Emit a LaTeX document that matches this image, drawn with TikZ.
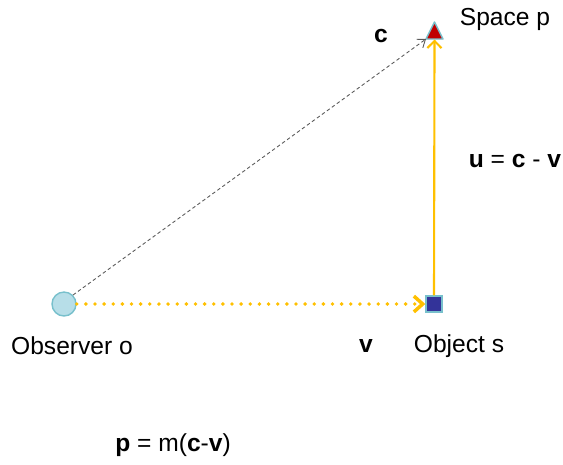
\documentclass[tikz,border=0pt]{standalone}
\usepackage{fontspec}
\setmainfont{Liberation Sans}
\usetikzlibrary{arrows.meta,shapes.geometric}
\definecolor{myyellow}{HTML}{FFC000}
\definecolor{mycyan}{HTML}{78C0CC}
\definecolor{lightcyan}{HTML}{B7DEE8}
\definecolor{darkblue}{HTML}{333399}
\definecolor{darkred}{HTML}{C00000}
\begin{document}
\begin{tikzpicture}[x=0.02cm,y=-0.02cm,
  lbl/.style={font=\fontsize{14pt}{16pt}\selectfont, inner sep=0pt},
  yarrow/.style={draw=myyellow, line width=1.2pt},
]
\useasboundingbox (0,0) rectangle (563,464);
\node[circle, draw=mycyan, fill=lightcyan, line width=0.8pt, inner sep=0pt, minimum size=0.48cm] (o) at (64,304) {};
\node[rectangle, draw=mycyan, fill=darkblue, line width=0.8pt, inner sep=0pt, minimum size=0.32cm] (s) at (434,304) {};
% triangle (Space p)
\coordinate (pt) at (434.5,22);
\coordinate (pl) at (426,39);
\coordinate (pr) at (443,39);
\coordinate (pb) at (434.5,39.5);
\draw[mycyan, fill=darkred, line width=0.8pt, line join=round] (pt) -- (pr) -- (pl) -- cycle;
% connectors
\draw[gray!70!black, line width=0.5pt, dash pattern=on 2pt off 1.5pt, -{Straight Barb[length=4pt,width=6pt]}] (o.north east) -- (pl);
\draw[yarrow, line width=2.2pt, dash pattern=on 0pt off 5.2pt, line cap=round, -{Straight Barb[length=5pt,width=9pt,line width=2pt,line cap=butt]}] (o.east) -- (s.west);
\draw[yarrow, -{Straight Barb[length=4pt,width=8pt]}] (s.north) -- (pb);
% labels
\node[lbl] (tp) at (505,19) {Space p};
\node[lbl] (tc) at (381,36) {\textbf{c}};
\node[lbl] (tu) at (515,161) {\textbf{u} = \textbf{c} - \textbf{v}};
\node[lbl] (to) at (72,346) {Observer o};
\node[lbl] (tv) at (366,346) {\textbf{v}};
\node[lbl] (ts) at (459,346) {Object s};
\node[lbl] (tf) at (173,445) {\textbf{p} = m(\textbf{c}-\textbf{v})};
\end{tikzpicture}
\end{document}
